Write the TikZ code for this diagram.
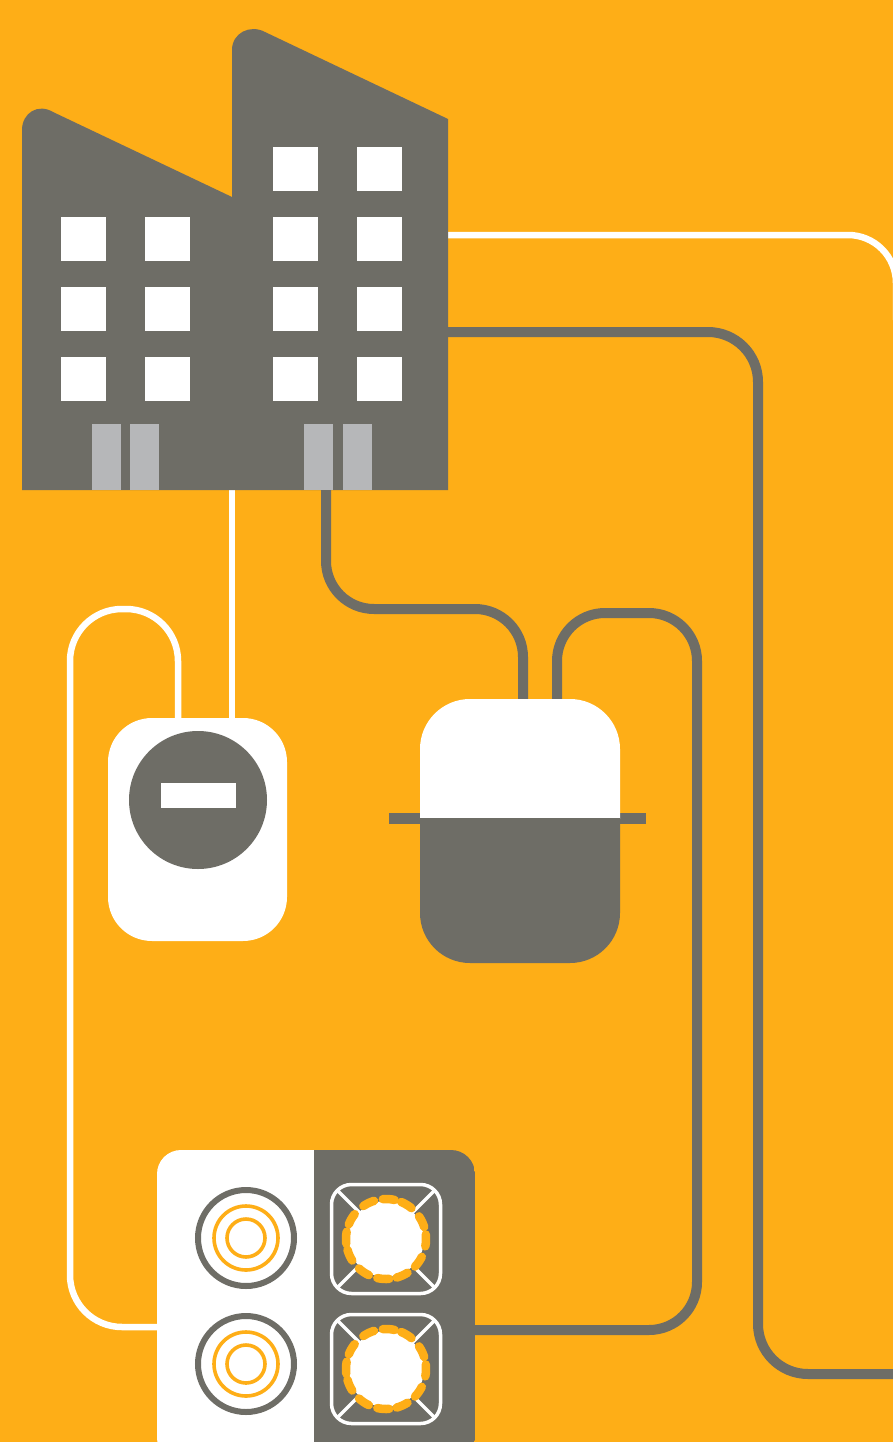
\documentclass[tikz,border=0pt]{standalone}
\definecolor{bgorange}{HTML}{FEAE17}
\definecolor{slate}{HTML}{6E6D66}
\definecolor{doorgrey}{HTML}{B6B7B9}
\tikzset{
  whitepipe/.style={draw=white,line width=6.5pt},
  greypipe/.style={draw=slate,line width=10pt},
  windowbox/.style={fill=white,draw=none,minimum width=45pt,minimum height=44pt,inner sep=0pt,outer sep=0pt,rectangle},
  doorbox/.style={fill=doorgrey,draw=none,minimum width=29pt,minimum height=66pt,inner sep=0pt,outer sep=0pt,rectangle},
  hobring/.style={draw=bgorange,line width=3.6pt},
  grate/.style={draw=white,line width=3.5pt},
}
\newcommand{\elecburner}[1]{%
  \draw[draw=slate,line width=6pt] (#1) circle (48pt);
  \draw[hobring] (#1) circle (32pt);
  \draw[hobring] (#1) circle (19pt);
}
\newcommand{\gasburner}[1]{%
  \begin{scope}[shift={(#1)}]
    \draw[grate,rounded corners=20pt] (-54.5pt,-54.5pt) rectangle (54.5pt,54.5pt);
    \draw[grate] (-48pt,-48pt) -- (48pt,48pt) (-48pt,48pt) -- (48pt,-48pt);
    \fill[white] (0,0) circle (38pt);
    \foreach \a in {-2,26,59,86,116,150,178,204,236,266,294,325}{
      \draw[draw=bgorange,line width=8.5pt,line cap=round]
        (\a-8.5:40pt) arc[start angle=\a-8.5,end angle=\a+8.5,radius=40pt];
    }
  \end{scope}
}
\begin{document}
\begin{tikzpicture}[x=1pt,y=-1pt]
\useasboundingbox (0,0) rectangle (893,1442);
\clip (0,0) rectangle (893,1442);
\fill[bgorange] (0,0) rectangle (893,1442);

% connector ends
\coordinate (bldE1) at (448,235);
\coordinate (bldE2) at (448,332);
\coordinate (bldS1) at (232,490);
\coordinate (bldS2) at (326,490);
\coordinate (meterT1) at (232,720);
\coordinate (meterT2) at (178,720);
\coordinate (tankT1) at (523,702);
\coordinate (tankT2) at (557,702);
\coordinate (hobW) at (159,1327);
\coordinate (hobE) at (473,1330);
\coordinate (outA) at (896,320);
\coordinate (outB) at (900,1374);

% connectors
\draw[whitepipe,rounded corners=48pt] (bldE1) -- (896,235) -- (outA);
\draw[greypipe,rounded corners=50pt] (bldE2) -- (758,332) -- (758,1374) -- (outB);
\draw[whitepipe] (bldS1) -- (meterT1);
\draw[whitepipe,rounded corners=52pt] (meterT2) -- (178,609) -- (70,609) -- (70,1327) -- (hobW);
\draw[greypipe,rounded corners=48pt] (bldS2) -- (326,609) -- (523,609) -- (tankT1);
\draw[greypipe,rounded corners=48pt] (tankT2) -- (557,613) -- (697,613) -- (697,1330) -- (hobE);

% factory
\fill[slate] (22,490) -- (22,130) .. controls (22,113) and (38,103) .. (53,112)
  -- (232,197) -- (232,50) .. controls (232,33) and (250,24) .. (265,32)
  -- (448,119) -- (448,490) -- cycle;
\foreach \n/\cx in {a/83.5,b/167}{
  \foreach \m/\cy in {2/239,3/309,4/379}{
    \node[windowbox] (w\n\m) at (\cx,\cy) {};
  }
}
\foreach \n/\cx in {c/295,d/379}{
  \foreach \m/\cy in {1/169,2/239,3/309,4/379}{
    \node[windowbox] (w\n\m) at (\cx,\cy) {};
  }
}
\foreach \n/\cx in {a/106.5,b/144.5,c/318.5,d/357}{
  \node[doorbox] (door\n) at (\cx,457) {};
}

% meter
\fill[white,rounded corners=44pt] (108,718) rectangle (287,941);
\fill[slate] (198,800) circle (69pt);
\fill[white] (161,783) rectangle (236,808);

% tank
\fill[slate] (389,813) rectangle (646,824);
\begin{scope}
\clip (400,690) rectangle (640,818);
\fill[white,rounded corners=50pt] (420,699) rectangle (620,963);
\end{scope}
\begin{scope}
\clip (400,818) rectangle (640,970);
\fill[slate,rounded corners=50pt] (420,699) rectangle (620,963);
\end{scope}

% hob
\begin{scope}
\clip[rounded corners=24pt] (157,1150) rectangle (475,1462);
\fill[white] (157,1150) rectangle (314,1462);
\fill[slate] (314,1150) rectangle (475,1462);
\end{scope}
\coordinate (elec1) at (246,1238);
\coordinate (elec2) at (246,1364);
\coordinate (gas1) at (386,1239);
\coordinate (gas2) at (386,1369);
\elecburner{elec1}
\elecburner{elec2}
\gasburner{gas1}
\gasburner{gas2}
\end{tikzpicture}
\end{document}
